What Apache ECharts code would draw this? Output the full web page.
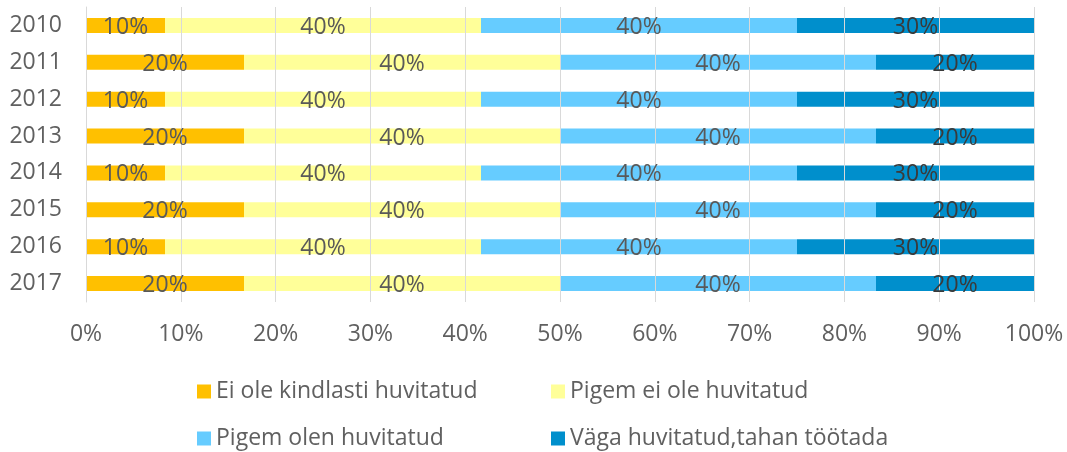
<!DOCTYPE html>
<html>
<head>
<meta charset="utf-8">
<script src="https://cdn.jsdelivr.net/npm/echarts@6/dist/echarts.min.js"></script>
<style>
html,body{margin:0;padding:0;background:#fff;}
#chart{width:1067px;height:452px;}
</style>
</head>
<body>
<div id="chart"></div>
<script>
const years = ['2010','2011','2012','2013','2014','2015','2016','2017'];
const seriesNames = ['Ei ole kindlasti huvitatud','Pigem ei ole huvitatud','Pigem olen huvitatud','Väga huvitatud,tahan töötada'];
const eiOle = [10,20,10,20,10,20,10,20];
const pigemEi = [40,40,40,40,40,40,40,40];
const pigemOlen = [40,40,40,40,40,40,40,40];
const vaga = [30,20,30,20,30,20,30,20];
const xTicks = [0,10,20,30,40,50,60,70,80,90,100];

const colors = ['#FFC000','#FFFF99','#66CCFF','#008FCC'];
const labelColors = ['#595959','#595959','#595959','#3A3A3A'];
const raw = [eiOle, pigemEi, pigemOlen, vaga];
const totals = years.map((_, i) => raw.reduce((s, arr) => s + arr[i], 0));
const FONT = "'Open Sans', 'Noto Sans', sans-serif";

// coloured bars (below the gridlines)
const barSeries = raw.map((arr, k) => ({
  name: seriesNames[k],
  type: 'bar',
  stack: 'total',
  barWidth: 15,
  barGap: '-100%',
  z: 2,
  itemStyle: { color: colors[k] },
  label: { show: false },
  emphasis: { disabled: true },
  data: arr.map((v, i) => v / totals[i] * 100)
}));

// transparent twin bars carrying the data labels (above the gridlines)
const labelSeries = raw.map((arr, k) => ({
  name: seriesNames[k] + ' (labels)',
  type: 'bar',
  stack: 'labels',
  barWidth: 15,
  barGap: '-100%',
  z: 4,
  silent: true,
  itemStyle: { color: 'rgba(0,0,0,0)' },
  label: {
    show: true,
    position: 'inside',
    offset: [0, 2],
    fontFamily: FONT,
    fontSize: 23,
    color: labelColors[k],
    formatter: p => raw[k][p.dataIndex] + '%'
  },
  emphasis: { disabled: true },
  data: arr.map((v, i) => v / totals[i] * 100)
}));

const legendPos = [
  { left: 197, top: 380 },
  { left: 551, top: 380 },
  { left: 197, top: 427 },
  { left: 551, top: 427 }
];
const legends = seriesNames.map((n, k) => ({
  data: [n],
  left: legendPos[k].left,
  top: legendPos[k].top,
  padding: 0,
  itemWidth: 14,
  itemHeight: 14,
  icon: 'rect',
  selectedMode: false,
  textStyle: { fontFamily: FONT, fontSize: 23, color: '#606060' }
}));

const chart = echarts.init(document.getElementById('chart'));
chart.setOption({
  animation: false,
  backgroundColor: '#fff',
  grid: { left: 86, right: 33, top: 7, height: 295 },
  legend: legends,
  xAxis: {
    type: 'value',
    z: 3,
    min: xTicks[0],
    max: xTicks[xTicks.length - 1],
    interval: 10,
    axisLine: { show: false },
    axisTick: { show: false },
    splitLine: { show: true, lineStyle: { color: '#D9D9D9', width: 1 } },
    axisLabel: {
      fontFamily: FONT, fontSize: 23, color: '#606060', margin: 21,
      formatter: v => v + '%'
    }
  },
  yAxis: {
    type: 'category',
    data: years,
    inverse: true,
    axisLine: { show: true, lineStyle: { color: '#D9D9D9' } },
    axisTick: { show: false },
    axisLabel: { fontFamily: FONT, fontSize: 23, color: '#606060', margin: 24 }
  },
  series: barSeries.concat(labelSeries)
});
</script>
</body>
</html>
